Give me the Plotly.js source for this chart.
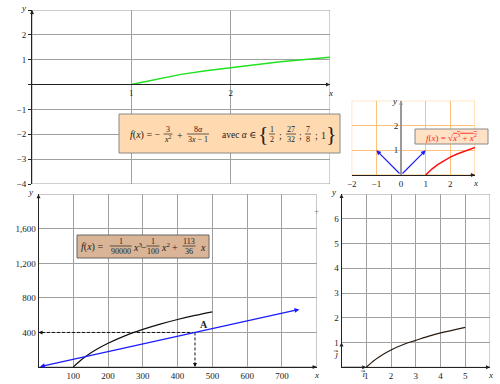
<!DOCTYPE html>
<html><head><meta charset="utf-8">
<script src="https://cdn.plot.ly/plotly-3.0.1.min.js"></script>
<style>html,body{margin:0;padding:0;background:#fff}#chart{width:500px;height:384px}</style>
</head><body><div id="chart"></div>
<script>
// ---------- data ----------
// plot 1 (top): green curve
const greenX = [1, 1.25, 1.5, 1.75, 2, 2.25, 2.5, 2.75, 3];
const greenY = [0, 0.22, 0.41, 0.56, 0.69, 0.81, 0.92, 1.01, 1.10];
const p1YTicks = [-4, -3, -2, -1, 0, 1, 2, 3];
const p1YText = ['\u22124', '\u22123', '\u22122', '\u22121', '', '1', '2', ''];
const p1XTicks = [0, 1, 2, 3];
const p1XText = ['', '1', '2', ''];
// plot 2 (small, orange grid): blue vectors and red curve
const vecEndX = [-1, 1];
const vecEndY = [1, 1];
const redX = [1, 1.25, 1.5, 1.75, 2, 2.25, 2.5, 2.75, 3];
const redY = [0, 0.24, 0.43, 0.59, 0.72, 0.84, 0.94, 1.03, 1.11];
const p2XTicks = [-2, -1, 0, 1, 2, 3];
const p2XText = ['\u22122', '\u22121', '0', '1', '2', ''];
const p2YTicks = [0, 1, 2, 3];
const p2YText = ['', '1', '2', ''];
// plot 3 (bottom left)
const blackX = [100, 110, 125, 150, 175, 200, 250, 300, 350, 400, 450, 500];
const blackY = [0, 38, 89, 161, 222, 275, 364, 436, 497, 550, 597, 639];
const blueLineX = [0, 750];
const blueLineY = [0, 667];
const pointA = [450, 400];
const p3XTicks = [0, 100, 200, 300, 400, 500, 600, 700, 800];
const p3XText = ['', '100', '200', '300', '400', '500', '600', '700', ''];
const p3YTicks = [0, 400, 800, 1200, 1600, 2000];
const p3YText = ['', '400', '800', '1,200', '1,600', ''];
// plot 4 (bottom right)
const curve4X = [1, 1.25, 1.5, 2, 2.5, 3, 3.5, 4, 4.5, 5];
const curve4Y = [0, 0.22, 0.41, 0.70, 0.92, 1.09, 1.25, 1.39, 1.50, 1.61];
const baseVecX = [1, 0];
const baseVecY = [0, 1];
const p4XTicks = [0, 1, 2, 3, 4, 5, 6];
const p4XText = ['', '1', '2', '3', '4', '5', ''];
const p4YTicks = [0, 1, 2, 3, 4, 5, 6, 7];
const p4YText = ['', '1', '2', '3', '4', '5', '6', ''];

// ---------- helpers ----------
const W = 500, H = 384;
const px = v => v / W, py = v => 1 - v / H;
const FONT = 'Liberation Serif, DejaVu Serif, serif';
const TXT = '#222';
const GRID = '#a0a0a0';
const ORANGE = '#ffc27a';
const anns = [], shapes = [];

function axisBase(extra) {
  return Object.assign({
    showgrid: true, gridcolor: GRID, gridwidth: 1, zeroline: false,
    showline: true, linecolor: '#222', linewidth: 1, ticks: '',
    tickfont: {family: FONT, size: 9, color: TXT}, tickmode: 'array', fixedrange: true
  }, extra);
}
function frame(xr, yr, x0, x1, y0, y1, color) {
  shapes.push({type: 'rect', xref: xr, yref: yr, x0: x0, x1: x1, y0: y0, y1: y1, layer: 'below',
    line: {color: color, width: 1}, fillcolor: 'rgba(0,0,0,0)'});
}
function arrowHead(xr, yr, x, y, dx, dy, color) {
  anns.push({xref: xr, yref: yr, x: x, y: y, ax: dx, ay: dy, text: '', showarrow: true,
    arrowhead: 2, arrowsize: 0.8, arrowwidth: 1, arrowcolor: color || '#222'});
}
function label(xr, yr, x, y, text, o) {
  anns.push(Object.assign({xref: xr, yref: yr, x: x, y: y, text: text, showarrow: false,
    font: {family: FONT, size: 9, color: TXT}, xanchor: 'center', yanchor: 'middle'}, o || {}));
}
function T(cx, cy, text, size, o) {
  anns.push(Object.assign({xref: 'paper', yref: 'paper', x: px(cx), y: py(cy), text: text, showarrow: false,
    borderpad: 0, font: {family: FONT, size: size || 10, color: TXT}, xanchor: 'center', yanchor: 'middle'}, o || {}));
}
function frac(cx, cy, num, den, w, size, color) {
  const c = color || TXT, s = size || 8;
  T(cx, cy - 4.3, num, s, {font: {family: FONT, size: s, color: c}});
  T(cx, cy + 5.2, den, s, {font: {family: FONT, size: s, color: c}});
  shapes.push({type: 'line', xref: 'paper', yref: 'paper', layer: 'above',
    x0: px(cx - w / 2), x1: px(cx + w / 2), y0: py(cy), y1: py(cy), line: {color: c, width: 0.7}});
}
function box(x0, y0, x1, y1, fill, border) {
  shapes.push({type: 'rect', xref: 'paper', yref: 'paper', layer: 'above',
    x0: px(x0), x1: px(x1), y0: py(y1), y1: py(y0), fillcolor: fill, line: {color: border, width: 1}});
}

// ---------- traces ----------
const traces = [
  {x: greenX, y: greenY, xaxis: 'x', yaxis: 'y', mode: 'lines', line: {color: '#22e022', width: 1.5}, hoverinfo: 'skip'},
  {x: redX, y: redY, xaxis: 'x2', yaxis: 'y2', mode: 'lines', line: {color: '#ff1010', width: 1.5}, hoverinfo: 'skip'},
  {x: blackX, y: blackY, xaxis: 'x3', yaxis: 'y3', mode: 'lines', line: {color: '#111', width: 1.2, shape: 'spline'}, hoverinfo: 'skip'},
  {x: [pointA[0], 0], y: [pointA[1], pointA[1]], xaxis: 'x3', yaxis: 'y3', mode: 'lines', line: {color: '#111', width: 1, dash: '3px,2px'}, hoverinfo: 'skip'},
  {x: [pointA[0], pointA[0]], y: [pointA[1], 0], xaxis: 'x3', yaxis: 'y3', mode: 'lines', line: {color: '#111', width: 1, dash: '3px,2px'}, hoverinfo: 'skip'},
  {x: curve4X, y: curve4Y, xaxis: 'x4', yaxis: 'y4', mode: 'lines', line: {color: '#2a1a10', width: 1.2, shape: 'spline'}, hoverinfo: 'skip'}
];

// ---------- axes ----------
const layout = {
  width: W, height: H, margin: {l: 0, r: 0, t: 0, b: 0}, showlegend: false,
  paper_bgcolor: '#fff', plot_bgcolor: 'rgba(0,0,0,0)',
  xaxis: axisBase({domain: [px(32), px(330)], range: [0, 3], anchor: 'free', position: py(84),
    tickvals: p1XTicks, ticktext: p1XText}),
  yaxis: axisBase({domain: [py(184), py(10)], range: [-4, 3], anchor: 'x',
    tickvals: p1YTicks, ticktext: p1YText, ticks: 'outside', ticklen: 3, tickcolor: '#222'}),
  xaxis2: axisBase({domain: [px(351.7), px(475)], range: [-2, 3], anchor: 'y2',
    tickvals: p2XTicks, ticktext: p2XText, gridcolor: ORANGE}),
  yaxis2: axisBase({domain: [py(175), py(100.7)], range: [0, 3], anchor: 'free', position: px(401),
    tickvals: p2YTicks, ticktext: p2YText, gridcolor: ORANGE, linecolor: '#999', linewidth: 2}),
  xaxis3: axisBase({domain: [px(38.5), px(316.7)], range: [0, 800], anchor: 'y3',
    tickvals: p3XTicks, ticktext: p3XText}),
  yaxis3: axisBase({domain: [py(367), py(194.3)], range: [0, 2000], anchor: 'x3',
    tickvals: p3YTicks, ticktext: p3YText}),
  xaxis4: axisBase({domain: [px(341.5), px(490)], range: [0, 6], anchor: 'y4',
    tickvals: p4XTicks, ticktext: p4XText}),
  yaxis4: axisBase({domain: [py(367.3), py(194)], range: [0, 7], anchor: 'x4',
    tickvals: p4YTicks, ticktext: p4YText})
};

// grid frames (outer gridlines at the range edges)
frame('x', 'y', 0, 3, -4, 3, GRID);
frame('x2', 'y2', -2, 3, 0, 3, ORANGE);
shapes.push({type: 'line', xref: 'x2', yref: 'y2', x0: 0, x1: 0, y0: 0, y1: 3, layer: 'below', line: {color: ORANGE, width: 1}});
frame('x3', 'y3', 0, 800, 0, 2000, GRID);
frame('x4', 'y4', 0, 6, 0, 7, GRID);

// axis arrowheads and axis names
arrowHead('x', 'y', 3, 0, -6, 0); arrowHead('x', 'y', 0, 3, 0, 6);
label('x', 'y', 3, 0, '<i>x</i>', {yshift: -8});
label('x', 'y', 0, 3, '<i>y</i>', {xshift: -9, yshift: 2});
arrowHead('x2', 'y2', 3, 0, -6, 0); arrowHead('x2', 'y2', 0, 3, 0, 6, '#999');
label('x2', 'y2', 3, 0, '<i>x</i>', {yshift: -8});
label('x2', 'y2', 0, 3, '<i>y</i>', {xshift: -7});
arrowHead('x3', 'y3', 800, 0, -6, 0); arrowHead('x3', 'y3', 0, 2000, 0, 6);
label('x3', 'y3', 800, 0, '<i>x</i>', {yshift: -8});
label('x3', 'y3', 0, 2000, '<i>y</i>', {xshift: -8, yshift: 2});
arrowHead('x4', 'y4', 6, 0, -6, 0); arrowHead('x4', 'y4', 0, 7, 0, 6);
label('x4', 'y4', 6, 0, '<i>x</i>', {yshift: -8});
label('x4', 'y4', 0, 7, '<i>y</i>', {xshift: -8, yshift: 2});

// plot 2 vectors
for (let i = 0; i < vecEndX.length; i++) {
  anns.push({xref: 'x2', yref: 'y2', axref: 'x2', ayref: 'y2', x: vecEndX[i], y: vecEndY[i], ax: 0, ay: 0,
    text: '', showarrow: true, arrowhead: 2, arrowsize: 0.8, arrowwidth: 1.2, arrowcolor: '#1a1aff'});
}
// plot 3 blue line with arrows at both ends
anns.push({xref: 'x3', yref: 'y3', axref: 'x3', ayref: 'y3', x: blueLineX[1], y: blueLineY[1], ax: blueLineX[0], ay: blueLineY[0],
  text: '', showarrow: true, arrowside: 'end+start', arrowhead: 2, arrowsize: 0.8, arrowwidth: 1.2, arrowcolor: '#1a1aff'});
// dashed arrowheads
arrowHead('x3', 'y3', 0, pointA[1], 6, 0, '#111');
arrowHead('x3', 'y3', pointA[0], 0, 0, -6, '#111');
label('x3', 'y3', pointA[0], pointA[1], '<b>A</b>', {xshift: 9, yshift: 8, font: {family: FONT, size: 10, color: TXT}});
// plot 4 base vectors
for (let i = 0; i < baseVecX.length; i++) {
  anns.push({xref: 'x4', yref: 'y4', axref: 'x4', ayref: 'y4', x: baseVecX[i], y: baseVecY[i], ax: 0, ay: 0,
    text: '', showarrow: true, arrowhead: 2, arrowsize: 0.8, arrowwidth: 1, arrowcolor: '#222'});
}
label('x4', 'y4', 0.85, 0, '<i>i</i>\u20D7', {yshift: -7});
label('x4', 'y4', 0, 0.55, '<i>j</i>\u20D7', {xshift: -6});
// stray tick mark at right of plot 3
T(316, 211, '+', 9, {font: {family: FONT, size: 9, color: '#888'}});

// ---------- formula box (plot 1) ----------
box(119, 114, 340, 153, '#ffd9b0', '#888');
T(129, 135, '<i>f</i>(<i>x</i>) = \u2212', 10, {xanchor: 'left'});
frac(168, 134, '3', '<i>x</i><sup>2</sup>', 9, 8);
T(180, 135, '+', 10);
frac(198, 134, '8<i>\u03b1</i>', '3<i>x</i> \u2212 1', 22, 8);
T(257, 135, 'avec <i>\u03b1</i> \u2208', 9.5, {xanchor: 'right'});
T(263, 134, '{', 22);
frac(272, 134, '1', '2', 6, 8);
T(280, 135, ';', 10);
frac(291, 134, '27', '32', 10, 8);
T(300, 135, ';', 10);
frac(308, 134, '7', '8', 6, 8);
T(316, 135, ';', 10);
T(323, 135, '1', 10);
T(331, 134, '}', 22);

// ---------- formula box (plot 2, red) ----------
box(415, 129, 488, 144, '#ffe2c6', '#888');
T(451, 137, '<i>f</i>(<i>x</i>) = \u221a<span style="text-decoration:overline"><i>x</i><sup>3</sup> + <i>x</i><sup>2</sup></span>', 9,
  {font: {family: FONT, size: 9, color: '#ff2020'}});

// ---------- formula box (plot 3) ----------
box(77, 235, 209, 258, '#d9b496', '#666');
T(80, 247, '<i>f</i>(<i>x</i>) =', 10, {xanchor: 'left'});
frac(120.7, 246, '1', '90000', 22, 8);
T(132, 247, '<i>x</i><sup>3</sup>', 10, {xanchor: 'left'});
T(144, 247, '\u2212', 10);
frac(153, 246, '1', '100', 13, 8);
T(160, 247, '<i>x</i><sup>2</sup>', 10, {xanchor: 'left'});
T(175, 247, '+', 10);
frac(189, 246, '113', '36', 13, 8);
T(199, 247, '<i>x</i>', 10, {xanchor: 'left'});

layout.annotations = anns;
layout.shapes = shapes;
Plotly.newPlot('chart', traces, layout, {staticPlot: true, displayModeBar: false});
</script>
</body></html>
